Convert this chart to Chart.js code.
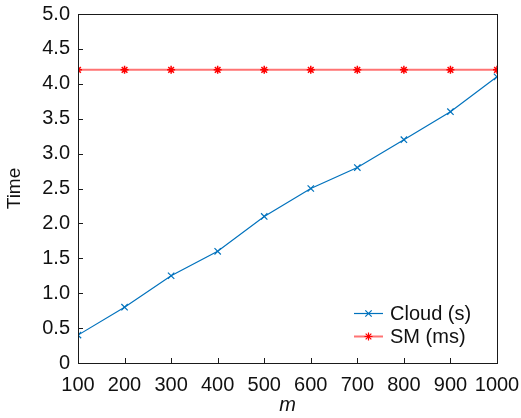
<!DOCTYPE html>
<html>
<head>
<meta charset="utf-8">
<script src="https://cdn.jsdelivr.net/npm/chart.js@4/dist/chart.umd.min.js"></script>
<style>
  html, body { margin: 0; padding: 0; background: #fff; }
  #wrap { width: 521px; height: 418px; position: relative; }
</style>
</head>
<body>
<div id="wrap"><canvas id="chart"></canvas></div>
<script>
const mValues = [100, 200, 300, 400, 500, 600, 700, 800, 900, 1000];
const cloudTimes = [0.4, 0.8, 1.25, 1.6, 2.1, 2.5, 2.8, 3.2, 3.6, 4.1];
const smTimes = [4.2, 4.2, 4.2, 4.2, 4.2, 4.2, 4.2, 4.2, 4.2, 4.2];
const yTicks = [0, 0.5, 1, 1.5, 2, 2.5, 3, 3.5, 4, 4.5, 5];
const seriesNames = ['Cloud (s)', 'SM (ms)'];

const FONT = 'Liberation Sans, Arial, Helvetica, sans-serif';
const blue = 'rgb(0,114,189)';
const red = 'rgb(255,0,0)';
const redLine = 'rgba(255,0,0,0.55)';

// frame, inward ticks and the legend inside the plot
const framePlugin = {
  id: 'frame',
  afterDraw(chart) {
    const { ctx, chartArea: a, scales } = chart;
    ctx.save();
    ctx.strokeStyle = '#1a1a1a';
    ctx.lineWidth = 1;
    ctx.strokeRect(Math.round(a.left) + 0.5, Math.round(a.top) + 0.5,
      Math.round(a.right - a.left), Math.round(a.bottom - a.top));
    ctx.beginPath();
    mValues.forEach(v => {
      const x = Math.round(scales.x.getPixelForValue(v)) + 0.5;
      ctx.moveTo(x, a.bottom);
      ctx.lineTo(x, a.bottom - 5);
    });
    yTicks.forEach(v => {
      const y = Math.round(scales.y.getPixelForValue(v)) + 0.5;
      ctx.moveTo(a.left, y);
      ctx.lineTo(a.left + 5, y);
    });
    ctx.stroke();

    // legend
    const legendColors = [[blue, blue, 1.2], [redLine, red, 2]];
    chart.data.datasets.forEach((ds, i) => {
      const y = 313 + i * 23;
      ctx.strokeStyle = legendColors[i][0];
      ctx.lineWidth = legendColors[i][2];
      ctx.beginPath();
      ctx.moveTo(354, y + 0.5);
      ctx.lineTo(383, y + 0.5);
      ctx.stroke();
      ctx.strokeStyle = legendColors[i][1];
      ctx.fillStyle = legendColors[i][1];
      ctx.lineWidth = 1.2;
      Chart.helpers.drawPoint(ctx, {
        pointStyle: ds.pointStyle, radius: ds.pointRadius, borderWidth: 1.2, rotation: 0
      }, 368.5, y + 0.5);
      ctx.fillStyle = '#111';
      ctx.font = '20px ' + FONT;
      ctx.textBaseline = 'middle';
      ctx.fillText(ds.label, 390, y + 1);
    });
    ctx.restore();
  }
};

new Chart(document.getElementById('chart'), {
  type: 'line',
  data: {
    labels: mValues,
    datasets: [
      {
        label: seriesNames[0],
        data: mValues.map((m, i) => ({ x: m, y: cloudTimes[i] })),
        borderColor: blue,
        backgroundColor: blue,
        borderWidth: 1.2,
        pointStyle: 'crossRot',
        pointRadius: 4.5,
        pointBorderWidth: 1.2,
        pointBorderColor: blue,
        tension: 0
      },
      {
        label: seriesNames[1],
        data: mValues.map((m, i) => ({ x: m, y: smTimes[i] })),
        borderColor: redLine,
        backgroundColor: red,
        borderWidth: 2,
        pointStyle: 'star',
        pointRadius: 4,
        pointBorderWidth: 1.5,
        pointBorderColor: red,
        tension: 0
      }
    ]
  },
  options: {
    responsive: true,
    maintainAspectRatio: false,
    animation: false,
    layout: { padding: { top: 14, right: 24, left: 0, bottom: 0 } },
    plugins: { legend: { display: false }, tooltip: { enabled: false } },
    scales: {
      x: {
        type: 'linear',
        min: 100,
        max: 1000,
        afterFit: s => { s.height = 55; s.paddingLeft = 0; s.paddingRight = 0; },
        afterBuildTicks: s => { s.ticks = mValues.map(v => ({ value: v })); },
        grid: { display: false, drawTicks: false },
        border: { display: false },
        ticks: {
          color: '#111', font: { family: FONT, size: 20 }, padding: 10, maxRotation: 0, autoSkip: false,
          callback: v => String(v)
        },
        title: { display: true, text: 'm', color: '#111', font: { family: FONT, size: 20, style: 'italic' }, padding: { top: 0, bottom: 1 } }
      },
      y: {
        min: 0,
        max: 5,
        afterFit: s => { s.width = 78; s.paddingTop = 0; s.paddingBottom = 0; },
        afterBuildTicks: s => { s.ticks = yTicks.map(v => ({ value: v })); },
        grid: { display: false, drawTicks: false },
        border: { display: false },
        ticks: {
          color: '#111', font: { family: FONT, size: 20 }, padding: 8, autoSkip: false,
          callback: v => v === 0 ? '0' : v.toFixed(1)
        },
        title: { display: true, text: 'Time', color: '#111', font: { family: FONT, size: 19 }, padding: { top: 3, bottom: 0 } }
      }
    }
  },
  plugins: [framePlugin]
});
</script>
</body>
</html>
